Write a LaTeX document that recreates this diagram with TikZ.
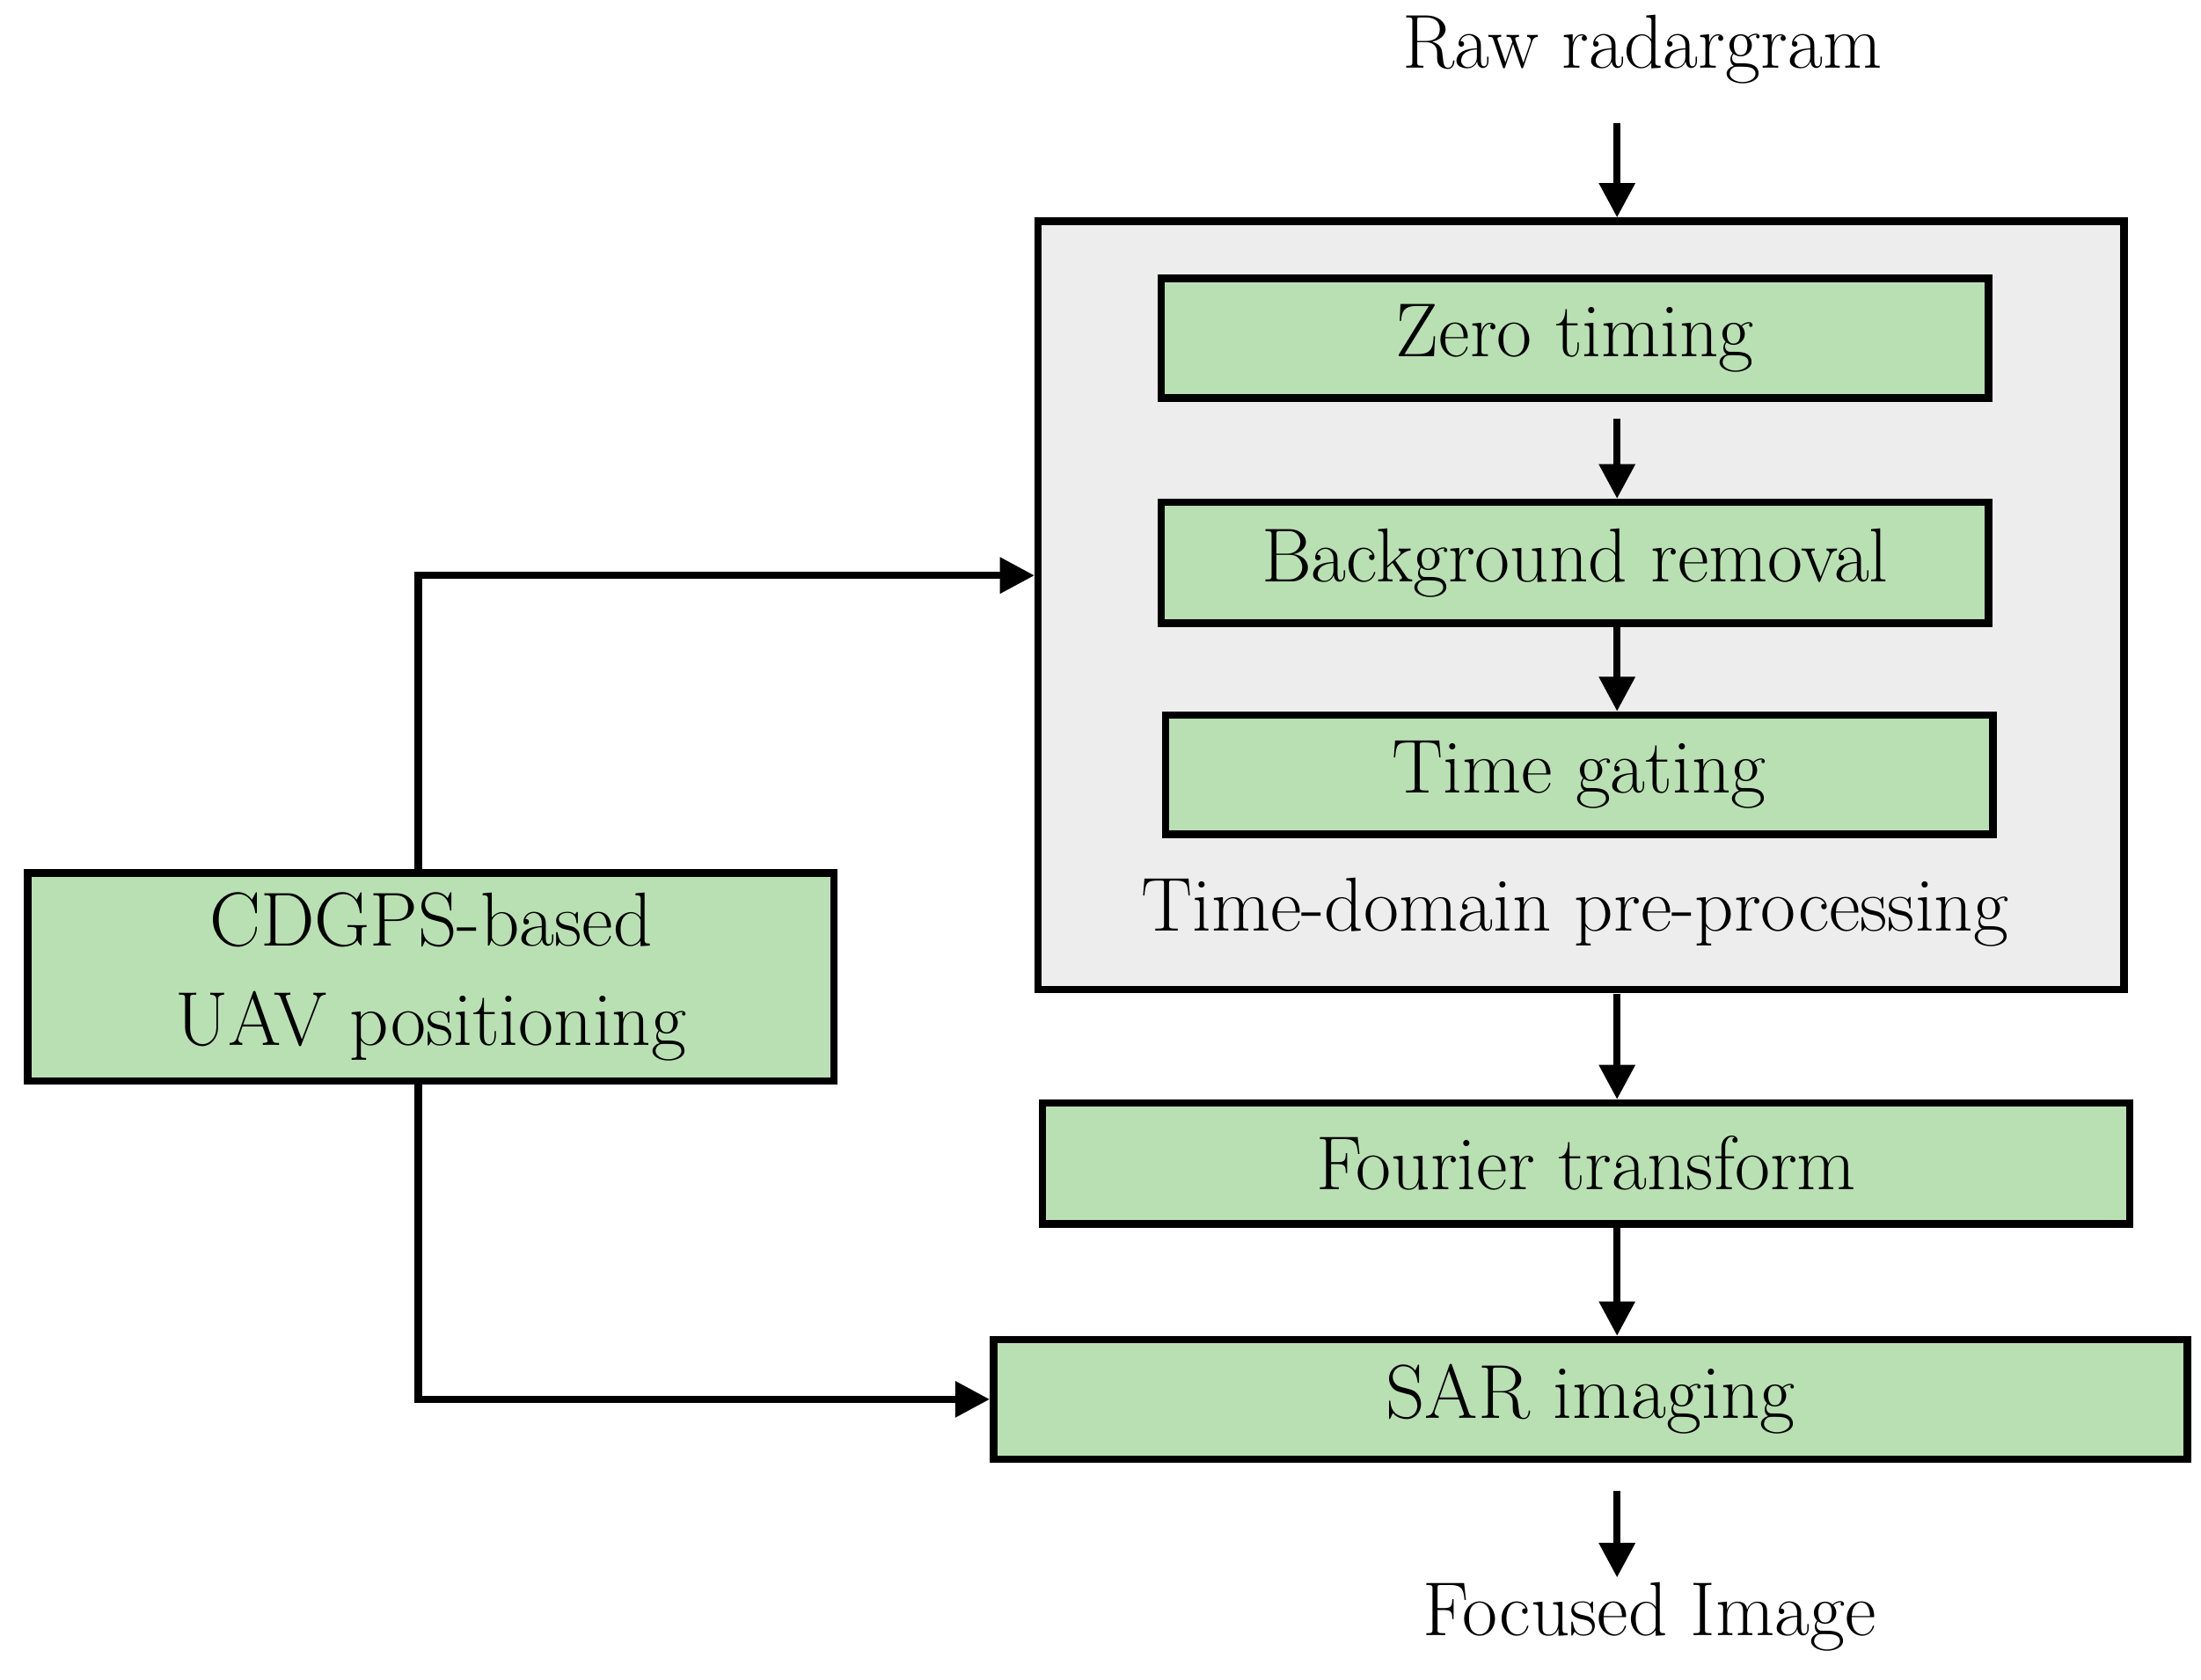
\documentclass[tikz,border=0pt]{standalone}
\usetikzlibrary{arrows.meta}
\begin{document}
\begin{tikzpicture}[x=0.01cm,y=-0.01cm,
  box/.style={draw=black,line width=1.5pt,fill=boxgreen,font=\fontsize{15.5}{20}\selectfont,align=center,inner sep=0pt},
  arr/.style={line width=1.5pt,-{Triangle[length=7pt,width=7pt]}},
  lbl/.style={font=\fontsize{15.5}{20}\selectfont}]
\definecolor{boxgreen}{RGB}{185,224,178}
\useasboundingbox (0,0) rectangle (1568,1197);
\node[draw=black,line width=1.5pt,fill=black!7,minimum width=7.73cm,minimum height=5.47cm,anchor=north west] (pre) at (737,155) {};
\node[lbl] (raw) at (1170,35) {Raw radargram};
\node[box,minimum width=5.89cm,minimum height=0.85cm] (zero) at (1122,241) {Zero timing};
\node[box,minimum width=5.89cm,minimum height=0.86cm] (bg) at (1122,401) {Background removal};
\node[box,minimum width=5.89cm,minimum height=0.85cm] (tg) at (1125,552) {Time gating};
\node[lbl] (tdp) at (1122,650) {Time-domain pre-processing};
\node[box,minimum width=7.74cm,minimum height=0.86cm] (ft) at (1130,829) {Fourier transform};
\node[box,minimum width=8.50cm,minimum height=0.85cm] (sar) at (1133,997) {SAR imaging};
\node[lbl] (foc) at (1175,1152) {Focused Image};
\node[box,minimum width=5.74cm,minimum height=1.48cm] (gps) at (307,696) {CDGPS-based\\UAV positioning};
\coordinate (a0) at (1152,88);
\coordinate (a1) at (1152,708);
\coordinate (a2) at (1152,1062);
\coordinate (a3) at (1152,1124);
\draw[arr] (a0) -- (a0 |- pre.north);
\draw[arr] (a0 |- zero.south) ++(0,12) -- (a0 |- bg.north);
\draw[arr] (a0 |- bg.south) -- (a0 |- tg.north);
\draw[arr] (a1) -- (a1 |- ft.north);
\draw[arr] (a0 |- ft.south) -- (a0 |- sar.north);
\draw[arr] (a2) -- (a3);
\draw[arr] (gps.north -| 298,0) -- (298,410) -- (pre.west |- 0,410);
\draw[arr] (gps.south -| 298,0) -- (298,997) -- (sar.west);
\end{tikzpicture}
\end{document}
